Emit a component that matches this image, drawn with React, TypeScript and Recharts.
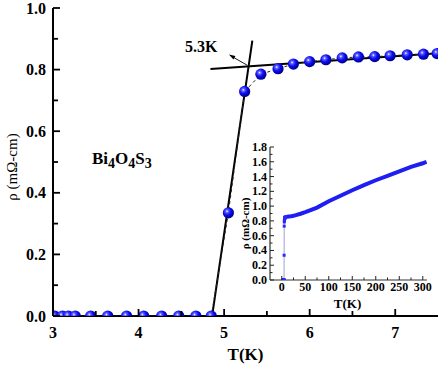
import { ComposedChart, Line, ReferenceDot, Scatter, XAxis, YAxis } from 'recharts'

const SERIF = 'Liberation Serif, Times New Roman, Times, DejaVu Serif, serif'

// main panel, low temperature data: T (K) and rho (mOhm-cm)
const lowT = [3.02, 3.11, 3.18, 3.26, 3.44, 3.64, 3.86, 4.06, 4.27, 4.47, 4.67, 4.85, 5.05, 5.24, 5.43, 5.63, 5.81, 6.0, 6.19, 6.38, 6.57, 6.76, 6.94, 7.14, 7.33, 7.49]
const lowRho = [0, 0, 0, 0, 0, 0, 0, 0, 0, 0, 0, 0, 0.335, 0.729, 0.785, 0.803, 0.818, 0.826, 0.832, 0.838, 0.841, 0.842, 0.845, 0.848, 0.85, 0.852]

// the two straight lines used to pick Tc
const steepFitT = [4.86, 5.33]
const steepFitRho = [0, 0.894]
const flatFitT = [4.84, 7.5]
const flatFitRho = [0.802, 0.853]
const tcT = 5.29
const tcRho = 0.81

// inset, full range
const wideT = [5.5, 8, 10, 15, 20, 25, 30, 40, 50, 60, 75, 100, 125, 150, 175, 200, 225, 250, 275, 300, 308]
const wideRho = [0.84, 0.85, 0.855, 0.86, 0.863, 0.87, 0.878, 0.897, 0.918, 0.942, 0.98, 1.065, 1.14, 1.215, 1.285, 1.35, 1.41, 1.47, 1.53, 1.58, 1.6]

const mainXTicks = [3, 3.5, 4, 4.5, 5, 5.5, 6, 6.5, 7]
const mainXLabels = [3, 4, 5, 6, 7]
const mainYTicks = [0, 0.1, 0.2, 0.3, 0.4, 0.5, 0.6, 0.7, 0.8, 0.9, 1.0]
const mainYLabels = [0, 0.2, 0.4, 0.6, 0.8, 1.0]
const insetXTicks = [0, 25, 50, 75, 100, 125, 150, 175, 200, 225, 250, 275, 300]
const insetXLabels = [0, 50, 100, 150, 200, 250, 300]
const insetYTicks = [0, 0.1, 0.2, 0.3, 0.4, 0.5, 0.6, 0.7, 0.8, 0.9, 1.0, 1.1, 1.2, 1.3, 1.4, 1.5, 1.6, 1.7, 1.8]
const insetYLabels = [0, 0.2, 0.4, 0.6, 0.8, 1.0, 1.2, 1.4, 1.6, 1.8]

const lowData = lowT.map((t, i) => ({ t, rho: lowRho[i] }))
const steepFit = steepFitT.map((t, i) => ({ t, rho: steepFitRho[i] }))
const flatFit = flatFitT.map((t, i) => ({ t, rho: flatFitRho[i] }))
const wideData = wideT.map((t, i) => ({ t, rho: wideRho[i] }))

const isLabel = (list: number[], v: number) => list.some((l) => Math.abs(l - v) < 1e-6)

const txt = (size: number) => ({ fontFamily: SERIF, fontWeight: 700, fontSize: size })

function MainXTick({ x, y, payload }: any) {
  const major = isLabel(mainXLabels, payload.value)
  return (
    <g>
      <line x1={x} x2={x} y1={y} y2={y - (major ? 7 : 5)} stroke="#000" strokeWidth={1.8} />
      {major && (
        <text x={x} y={y + 22} textAnchor="middle" style={txt(16)} fill="#000">
          {payload.value}
        </text>
      )}
    </g>
  )
}

function MainYTick({ x, y, payload }: any) {
  const major = isLabel(mainYLabels, payload.value)
  return (
    <g>
      <line x1={x} x2={x + (major ? 7 : 5)} y1={y} y2={y} stroke="#000" strokeWidth={1.8} />
      {major && (
        <text x={x - 7} y={y + 5.5} textAnchor="end" style={txt(16)} fill="#000">
          {payload.value.toFixed(1)}
        </text>
      )}
    </g>
  )
}

function InsetXTick({ x, y, payload }: any) {
  const major = isLabel(insetXLabels, payload.value)
  return (
    <g>
      <line x1={x} x2={x} y1={y} y2={y - (major ? 4 : 2.5)} stroke="#222" strokeWidth={1} />
      {major && (
        <text x={x} y={y + 11} textAnchor="middle" style={txt(12)} fill="#000">
          {payload.value}
        </text>
      )}
    </g>
  )
}

function InsetYTick({ x, y, payload }: any) {
  const major = isLabel(insetYLabels, payload.value)
  return (
    <g>
      <line x1={x} x2={x + (major ? 4 : 2.5)} y1={y} y2={y} stroke="#222" strokeWidth={1} />
      {major && (
        <text x={x - 3} y={y + 4} textAnchor="end" style={txt(12)} fill="#000">
          {payload.value.toFixed(1)}
        </text>
      )}
    </g>
  )
}

function Ball({ cx, cy }: any) {
  return <circle cx={cx} cy={cy} r={5.6} fill="url(#ball)" />
}

function SmallDot({ cx, cy }: any) {
  return <rect x={cx - 1.5} y={cy - 1.5} width={3} height={3} fill="#2a2aff" />
}

function TcMarker({ cx, cy }: any) {
  return (
    <g>
      <line x1={cx - 2} y1={cy - 1.5} x2={cx - 17} y2={cy - 10} stroke="#000" strokeWidth={0.9} />
      <polygon points={`${cx - 20},${cy - 12} ${cx - 13.5},${cy - 10.5} ${cx - 15.5},${cy - 7}`} fill="#000" />
      <text x={cx - 64} y={cy - 15} style={txt(16)} fill="#000">
        5.3K
      </text>
    </g>
  )
}

const frame = { stroke: '#000', strokeWidth: 2 }

export default function App() {
  return (
    <div style={{ position: 'absolute', left: 0, top: 0, width: 441, height: 367, background: '#fff', fontFamily: SERIF }}>
      <ComposedChart width={441} height={367} margin={{ top: 8, right: 3, bottom: 1, left: 8 }}>
        <defs>
          <radialGradient id="ball" cx="38%" cy="36%" r="62%">
            <stop offset="0%" stopColor="#ffffff" />
            <stop offset="20%" stopColor="#6060ff" />
            <stop offset="55%" stopColor="#0c0cf2" />
            <stop offset="100%" stopColor="#000090" />
          </radialGradient>
        </defs>
        <XAxis
          dataKey="t"
          type="number"
          domain={[3, 7.5]}
          ticks={mainXTicks}
          interval={0}
          allowDataOverflow
          height={50}
          tickSize={0}
          tickMargin={0}
          tickLine={false}
          axisLine={frame}
          tick={<MainXTick />}
          label={{
            content: ({ viewBox }: any) => (
              <text x={viewBox.x + viewBox.width / 2} y={viewBox.y + 44} textAnchor="middle" style={txt(17)} fill="#000">
                T(K)
              </text>
            ),
          }}
        />
        <XAxis xAxisId="top" orientation="top" type="number" domain={[3, 7.5]} height={0} tick={false} tickLine={false} axisLine={frame} />
        <YAxis
          type="number"
          domain={[0, 1]}
          ticks={mainYTicks}
          interval={0}
          allowDataOverflow
          width={45}
          tickSize={0}
          tickMargin={0}
          tickLine={false}
          axisLine={frame}
          tick={<MainYTick />}
          label={{
            content: ({ viewBox }: any) => (
              <text
                transform={`translate(${viewBox.x + 9}, ${viewBox.y + viewBox.height / 2 + 5}) rotate(-90)`}
                textAnchor="middle"
                style={{ fontFamily: SERIF, fontWeight: 400, fontSize: 15 }}
                fill="#000"
              >
                ρ (mΩ-cm)
              </text>
            ),
          }}
        />
        <YAxis yAxisId="right" orientation="right" type="number" domain={[0, 1]} width={0} tick={false} tickLine={false} axisLine={frame} />
        <Scatter
          data={lowData}
          dataKey="rho"
          line={{ stroke: '#222', strokeWidth: 1, strokeDasharray: '3 3' }}
          shape={<Ball />}
          isAnimationActive={false}
        />
        <Line data={steepFit} dataKey="rho" stroke="#000" strokeWidth={2} dot={false} isAnimationActive={false} />
        <Line data={flatFit} dataKey="rho" stroke="#000" strokeWidth={2} dot={false} isAnimationActive={false} />
        <ReferenceDot x={tcT} y={tcRho} shape={<TcMarker />} />
      </ComposedChart>

      <div
        style={{
          position: 'absolute',
          left: 92,
          top: 151,
          fontFamily: SERIF,
          fontWeight: 700,
          fontSize: 17,
          lineHeight: '16px',
          whiteSpace: 'nowrap',
        }}
      >
        Bi<sub style={{ fontSize: 14 }}>4</sub>O<sub style={{ fontSize: 14 }}>4</sub>S<sub style={{ fontSize: 14 }}>3</sub>
      </div>

      <div style={{ position: 'absolute', left: 230, top: 135 }}>
        <ComposedChart width={205} height={180} margin={{ top: 12, right: 8, bottom: 5, left: 10 }}>
          <XAxis
            dataKey="t"
            type="number"
            domain={[-25, 309]}
            ticks={insetXTicks}
            interval={0}
            allowDataOverflow
            height={30}
            tickSize={0}
            tickMargin={0}
            tickLine={false}
            axisLine={{ stroke: '#333', strokeWidth: 1.2 }}
            tick={<InsetXTick />}
            label={{
              content: ({ viewBox }: any) => (
                <text x={viewBox.x + viewBox.width / 2 - 1} y={viewBox.y + 28} textAnchor="middle" style={txt(13)} fill="#000">
                  T(K)
                </text>
              ),
            }}
          />
          <XAxis xAxisId="top" orientation="top" type="number" domain={[-25, 309]} height={0} tick={false} tickLine={false} axisLine={{ stroke: '#999', strokeWidth: 1 }} />
          <YAxis
            type="number"
            domain={[0, 1.8]}
            ticks={insetYTicks}
            interval={0}
            allowDataOverflow
            width={30}
            tickSize={0}
            tickMargin={0}
            tickLine={false}
            axisLine={{ stroke: '#333', strokeWidth: 1.2 }}
            tick={<InsetYTick />}
            label={{
              content: ({ viewBox }: any) => (
                <text
                  transform={`translate(${viewBox.x + 9}, ${viewBox.y + viewBox.height / 2 + 10}) rotate(-90)`}
                  textAnchor="middle"
                  style={txt(11)}
                  fill="#000"
                >
                  ρ (mΩ-cm)
                </text>
              ),
            }}
          />
          <YAxis yAxisId="right" orientation="right" type="number" domain={[0, 1.8]} width={0} tick={false} tickLine={false} axisLine={{ stroke: '#999', strokeWidth: 1 }} />
          <Scatter
            data={lowData}
            dataKey="rho"
            line={{ stroke: '#8888cc', strokeWidth: 0.8 }}
            shape={<SmallDot />}
            isAnimationActive={false}
          />
          <Line data={wideData} dataKey="rho" stroke="#1e1ef2" strokeWidth={4} dot={false} isAnimationActive={false} />
        </ComposedChart>
      </div>
    </div>
  )
}
